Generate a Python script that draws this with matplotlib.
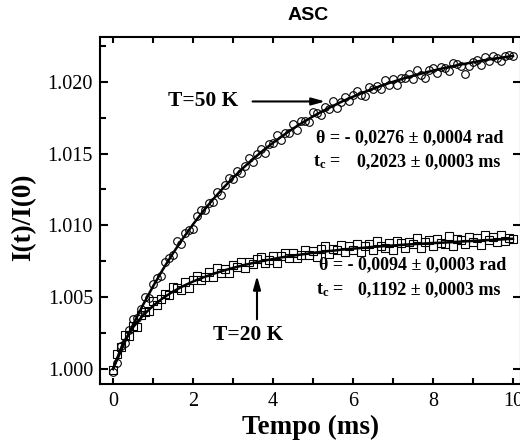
import numpy as np
import matplotlib
matplotlib.use('Agg')
import matplotlib.pyplot as plt
from matplotlib.ticker import MultipleLocator, FormatStrFormatter

plt.rcParams['font.family'] = ['Liberation Serif', 'DejaVu Serif']
plt.rcParams['mathtext.fontset'] = 'custom'
plt.rcParams['mathtext.rm'] = 'Liberation Serif:bold'
plt.rcParams['mathtext.it'] = 'Liberation Serif:bold'

# sampling times (ms) of the measured points, every 0.1 ms
t_meas = np.linspace(0, 10, 101)

# T = 50 K, measured I(t)/I(0) (open circles)
i_50k = [
    0.99980, 1.00045, 1.00159, 1.00180, 1.00270, 1.00348, 1.00354, 1.00419, 1.00503, 1.00495,
    1.00595, 1.00634, 1.00651, 1.00748, 1.00773, 1.00796, 1.00889, 1.00870, 1.00950, 1.00969,
    1.00977, 1.01064, 1.01109, 1.01104, 1.01158, 1.01161, 1.01233, 1.01214, 1.01284, 1.01333,
    1.01321, 1.01379, 1.01366, 1.01412, 1.01467, 1.01442, 1.01496, 1.01529, 1.01502, 1.01564,
    1.01575, 1.01626, 1.01596, 1.01646, 1.01645, 1.01704, 1.01662, 1.01729, 1.01726, 1.01723,
    1.01789, 1.01784, 1.01770, 1.01824, 1.01809, 1.01863, 1.01816, 1.01859, 1.01892, 1.01864,
    1.01906, 1.01938, 1.01910, 1.01901, 1.01961, 1.01952, 1.01972, 1.01952, 1.02012, 1.01981,
    1.02020, 1.01979, 1.02027, 1.02026, 1.02054, 1.02022, 1.02079, 1.02047, 1.02024, 1.02081,
    1.02098, 1.02064, 1.02101, 1.02097, 1.02073, 1.02129, 1.02125, 1.02110, 1.02056, 1.02111,
    1.02136, 1.02151, 1.02116, 1.02171, 1.02145, 1.02180, 1.02164, 1.02148, 1.02182, 1.02186,
    1.02180,
]

# T = 20 K, measured I(t)/I(0) (open squares)
i_20k = [
    0.99990, 1.00105, 1.00150, 1.00235, 1.00230, 1.00300, 1.00295, 1.00378, 1.00398, 1.00405,
    1.00470, 1.00443, 1.00484, 1.00524, 1.00512, 1.00569, 1.00565, 1.00550, 1.00604, 1.00567,
    1.00619, 1.00651, 1.00622, 1.00642, 1.00672, 1.00642, 1.00701, 1.00670, 1.00698, 1.00666,
    1.00724, 1.00711, 1.00748, 1.00705, 1.00742, 1.00728, 1.00764, 1.00780, 1.00736, 1.00761,
    1.00786, 1.00741, 1.00786, 1.00811, 1.00775, 1.00809, 1.00773, 1.00797, 1.00831, 1.00795,
    1.00819, 1.00782, 1.00835, 1.00858, 1.00801, 1.00834, 1.00827, 1.00860, 1.00813, 1.00855,
    1.00828, 1.00870, 1.00813, 1.00855, 1.00867, 1.00830, 1.00892, 1.00854, 1.00846, 1.00878,
    1.00830, 1.00892, 1.00874, 1.00845, 1.00887, 1.00869, 1.00910, 1.00842, 1.00884, 1.00895,
    1.00857, 1.00908, 1.00880, 1.00871, 1.00923, 1.00854, 1.00906, 1.00897, 1.00869, 1.00920,
    1.00882, 1.00913, 1.00865, 1.00936, 1.00898, 1.00919, 1.00881, 1.00932, 1.00894, 1.00915,
    1.00907,
]

# fitted curves, every 0.25 ms
t_fit = np.linspace(0, 10, 41)
fit_50k = [
    1.00000, 1.00159, 1.00308, 1.00446, 1.00575, 1.00695, 1.00806, 1.00910, 1.01007, 1.01097,
    1.01181, 1.01259, 1.01331, 1.01399, 1.01462, 1.01521, 1.01575, 1.01626, 1.01674, 1.01718,
    1.01759, 1.01797, 1.01832, 1.01866, 1.01896, 1.01925, 1.01952, 1.01977, 1.02000, 1.02022,
    1.02042, 1.02060, 1.02078, 1.02094, 1.02109, 1.02123, 1.02136, 1.02149, 1.02160, 1.02170,
    1.02180,
]
fit_20k = [
    1.00000, 1.00180, 1.00290, 1.00373, 1.00440, 1.00494, 1.00539, 1.00577, 1.00609, 1.00637,
    1.00662, 1.00684, 1.00704, 1.00722, 1.00738, 1.00753, 1.00766, 1.00779, 1.00789, 1.00799,
    1.00809, 1.00817, 1.00824, 1.00832, 1.00838, 1.00844, 1.00850, 1.00855, 1.00860, 1.00865,
    1.00869, 1.00873, 1.00877, 1.00880, 1.00884, 1.00888, 1.00892, 1.00896, 1.00899, 1.00903,
    1.00907,
]

fig = plt.figure(figsize=(5.2, 4.43), dpi=100)
ax = fig.add_axes([0.1923, 0.1332, 0.8096, 0.7833])

ax.plot(t_meas, i_50k, 'o', ms=5.5, mfc='none', mec='black', mew=0.8)
ax.plot(t_meas, i_20k, 's', ms=5.2, mfc='none', mec='black', mew=0.8)
ax.plot(t_fit, fit_50k, '-', color='black', lw=1.8)
ax.plot(t_fit, fit_20k, '-', color='black', lw=1.8)

ax.set_xlim(-0.325, 10.2)
ax.set_ylim(0.998955, 1.02312)

ax.xaxis.set_major_locator(MultipleLocator(2))
ax.xaxis.set_minor_locator(MultipleLocator(1))
ax.yaxis.set_major_locator(MultipleLocator(0.005))
ax.yaxis.set_minor_locator(MultipleLocator(0.0025))
ax.yaxis.set_major_formatter(FormatStrFormatter('%.3f'))

for s in ax.spines.values():
    s.set_linewidth(1.5)
ax.tick_params(axis='both', which='both', direction='in', width=1.5,
               top=True, right=True, labelsize=14.5)
ax.tick_params(axis='x', which='both', length=4, pad=6)
ax.tick_params(axis='y', which='major', length=6, pad=5)
ax.tick_params(axis='y', which='minor', length=4, right=False)

ax.set_xlabel('Tempo (ms)', fontsize=19.5, fontweight='bold')
ax.xaxis.set_label_coords(0.5, -0.124)
ax.xaxis.label.set_verticalalignment('center')
ax.set_ylabel('I(t)/I(0)', fontsize=19.5, fontweight='bold')
ax.yaxis.set_label_coords(-0.18, 0.481)
ax.yaxis.label.set_verticalalignment('center')

fig.text(308 / 520, 1 - 15 / 443, 'ASC', family='Liberation Sans', fontweight='bold',
         fontsize=14, ha='center', va='center')

# annotations
lab = dict(fontsize=15.5, fontweight='bold', va='center')
ax.text(1.375, 1.01863, 'T=50 K', ha='left', **lab)
ax.annotate('', xy=(5.375, 1.01863), xytext=(3.42, 1.01863),
            arrowprops=dict(arrowstyle='-|>,head_length=0.8,head_width=0.22', color='black', lw=1.5))
ax.text(2.5, 1.00237, 'T=20 K', ha='left', **lab)
ax.annotate('', xy=(3.6, 1.00669), xytext=(3.6, 1.00327),
            arrowprops=dict(arrowstyle='-|>,head_length=0.8,head_width=0.22', color='black', lw=1.5))

par = dict(fontsize=13, fontweight='bold', va='center', ha='left')
ax.text(5.075, 1.01609, '\u03b8 = - 0,0276 \u00b1 0,0004 rad', **par)
ax.text(5.0, 1.01442, 't$_{\\rm c}$ =', **par)
ax.text(6.1, 1.01442, '0,2023 \u00b1 0,0003 ms', **par)
ax.text(5.15, 1.00724, '\u03b8 = - 0,0094 \u00b1 0,0003 rad', **par)
ax.text(5.075, 1.00550, 't$_{\\rm c}$ =', **par)
ax.text(6.125, 1.00550, '0,1192 \u00b1 0,0003 ms', **par)

fig.savefig('out.png', dpi=100)
